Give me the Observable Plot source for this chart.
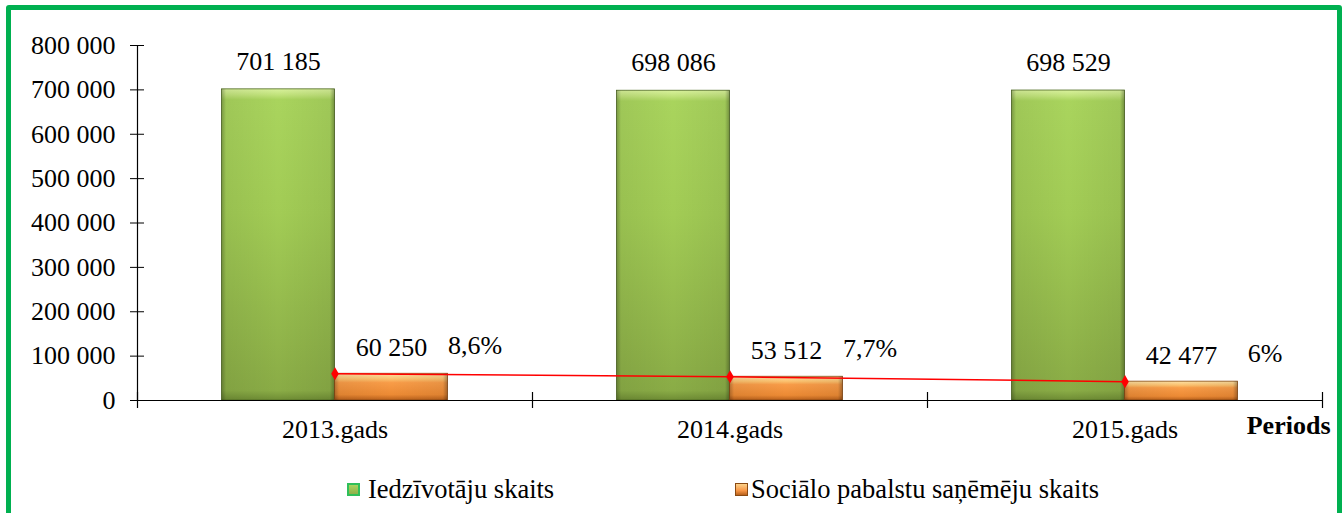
<!DOCTYPE html>
<html><head><meta charset="utf-8">
<script src="https://cdn.jsdelivr.net/npm/d3@7"></script>
<script src="https://cdn.jsdelivr.net/npm/@observablehq/plot@0.6"></script>
<style>
body{margin:0;background:#fff;width:1344px;height:513px;overflow:hidden;position:relative;font-family:'Liberation Serif','Times New Roman',serif;}
#frame{position:absolute;left:6px;top:5px;width:1326px;height:520px;border:5px solid #00b050;border-radius:3px;pointer-events:none;}
#chart{position:absolute;left:0;top:0;}
#legend{position:absolute;top:460px;left:0;width:1344px;height:53px;font-size:26.5px;color:#000}
.item{position:absolute;top:14px;display:flex;align-items:center;white-space:nowrap}
.sw{width:13px;height:13px;box-sizing:border-box}
</style></head><body>
<div id="chart"></div>
<div id="legend"></div>
<div id="frame"></div>
<script>
const years = ["2013.gads", "2014.gads", "2015.gads"];
const residents = [701185, 698086, 698529];
const recipients = [60250, 53512, 42477];
const shares = ["8,6%", "7,7%", "6%"];
const yTicks = [0, 100000, 200000, 300000, 400000, 500000, 600000, 700000, 800000];
const seriesNames = ["Iedzīvotāju skaits", "Sociālo pabalstu saņēmēju skaits"];
const axisName = "Periods";

const W = 1344, H = 460, ML = 137, MR = 22, MT = 45, MB = 60;
const FONT = "'Liberation Serif','Times New Roman',serif";
const step = (W - ML - MR) / years.length;
const barW = step * 0.286;
const data = years.map((y, i) => ({year: y, residents: residents[i], recipients: recipients[i], share: shares[i]}));
const fmt = d => d3.format(",")(d).replace(/,/g, " ");
const half = 8 * 800000 / (H - MT - MB);

const chart = Plot.plot({
  width: W, height: H,
  marginLeft: ML, marginRight: MR, marginTop: MT, marginBottom: MB,
  style: {fontFamily: FONT, fontSize: "26px", color: "#000", background: "transparent"},
  x: {type: "band", domain: years, padding: 0},
  y: {domain: [0, 800000]},
  marks: [
    Plot.barY(data, {x: "year", y: "residents", fill: "url(#gGreen)", stroke: "#4f6a22", strokeWidth: 0.8, insetLeft: step / 2 - barW, insetRight: step / 2}),
    Plot.barY(data, {x: "year", y: "residents", fill: "url(#hEdge)", insetLeft: step / 2 - barW, insetRight: step / 2}),
    Plot.barY(data, {x: "year", y: "recipients", fill: "url(#gOrange)", stroke: "#8a4a12", strokeWidth: 0.8, insetLeft: step / 2, insetRight: step / 2 - barW}),
    Plot.barY(data, {x: "year", y: "recipients", fill: "url(#hEdge)", insetLeft: step / 2, insetRight: step / 2 - barW}),
    Plot.ruleY([0], {stroke: "#000", strokeWidth: 1.2}),
    Plot.frame({anchor: "left", stroke: "#000", strokeWidth: 1.2}),
    Plot.ruleX(years, {x: d => d, dx: -step / 2, y1: -half, y2: half, stroke: "#000", strokeWidth: 1.2}),
    Plot.ruleX(years.slice(-1), {x: d => d, dx: step / 2, y1: -half, y2: half, stroke: "#000", strokeWidth: 1.2}),
    Plot.axisY({ticks: yTicks, tickSize: 14, dx: 7, tickFormat: () => "", label: null, stroke: "#000"}),
    Plot.axisY({ticks: yTicks, tickSize: 0, tickPadding: 22, tickFormat: fmt, label: null, fontSize: 26, fill: "#000", fontFamily: FONT}),
    Plot.axisX({tickSize: 0, tickPadding: 19, label: null, fontSize: 26, fill: "#000", fontFamily: FONT}),
    Plot.text(data, {x: "year", y: "residents", text: d => fmt(d.residents), dx: -barW / 2, dy: -28, fontSize: 26, fill: "#000", fontFamily: FONT}),
    Plot.text(data, {x: "year", y: "recipients", text: d => fmt(d.recipients), dx: barW / 2, dy: -26, fontSize: 26, fill: "#000", fontFamily: FONT}),
    Plot.lineY(data, {x: "year", y: "recipients", stroke: "#ff0000", strokeWidth: 1.5}),
    Plot.dot(data, {x: "year", y: "recipients", symbol: "diamond", r: 4, fill: "#ff0000"}),
    Plot.text(data, {x: "year", y: "recipients", text: "share", dx: 140, dy: -28, fontSize: 26, fill: "#000", fontFamily: FONT}),
    Plot.text([axisName], {frameAnchor: "bottom-right", textAnchor: "end", dx: 8, dy: 33, fontSize: 26, fontWeight: "bold", fill: "#000", fontFamily: FONT})
  ]
});

const svg = d3.select(chart);
const defs = svg.insert("defs", ":first-child");
function grad(id, stops, horiz) {
  const g = defs.append("linearGradient").attr("id", id)
    .attr("x1", 0).attr("y1", 0).attr("x2", horiz ? 1 : 0).attr("y2", horiz ? 0 : 1);
  stops.forEach(([o, c, op]) => g.append("stop").attr("offset", o).attr("stop-color", c).attr("stop-opacity", op == null ? 1 : op));
}
grad("gGreen", [[0, "#d9f29c"], [0.02, "#c0e27a"], [0.035, "#a9d45d"], [0.4, "#a2cc55"], [0.97, "#8aac46"], [1, "#6f8d35"]]);
grad("gOrange", [[0, "#fde2a6"], [0.22, "#fbbf6c"], [0.35, "#f89c48"], [0.8, "#ec8a34"], [1, "#b9611c"]]);
grad("hEdge", [[0, "#000", 0.28], [0.04, "#000", 0.06], [0.5, "#000", 0], [0.96, "#000", 0.06], [1, "#000", 0.32]], true);
document.getElementById("chart").appendChild(chart);

const legend = document.getElementById("legend");
const items = [
  {name: seriesNames[0], left: 347, gap: 8, bg: "linear-gradient(#a8d45e,#8fb04a)", border: "2px solid #2fbf5a"},
  {name: seriesNames[1], left: 735, gap: 3, bg: "linear-gradient(#fcd28a,#f79646 60%,#b9611c)", border: "1px solid #8a4a12"}
];
items.forEach(it => {
  const d = document.createElement("div");
  d.className = "item";
  d.style.left = it.left + "px";
  const s = document.createElement("span");
  s.className = "sw";
  s.style.background = it.bg;
  s.style.border = it.border;
  s.style.marginRight = it.gap + "px";
  const t = document.createElement("span");
  t.textContent = it.name;
  d.appendChild(s); d.appendChild(t);
  legend.appendChild(d);
});
</script></body></html>
